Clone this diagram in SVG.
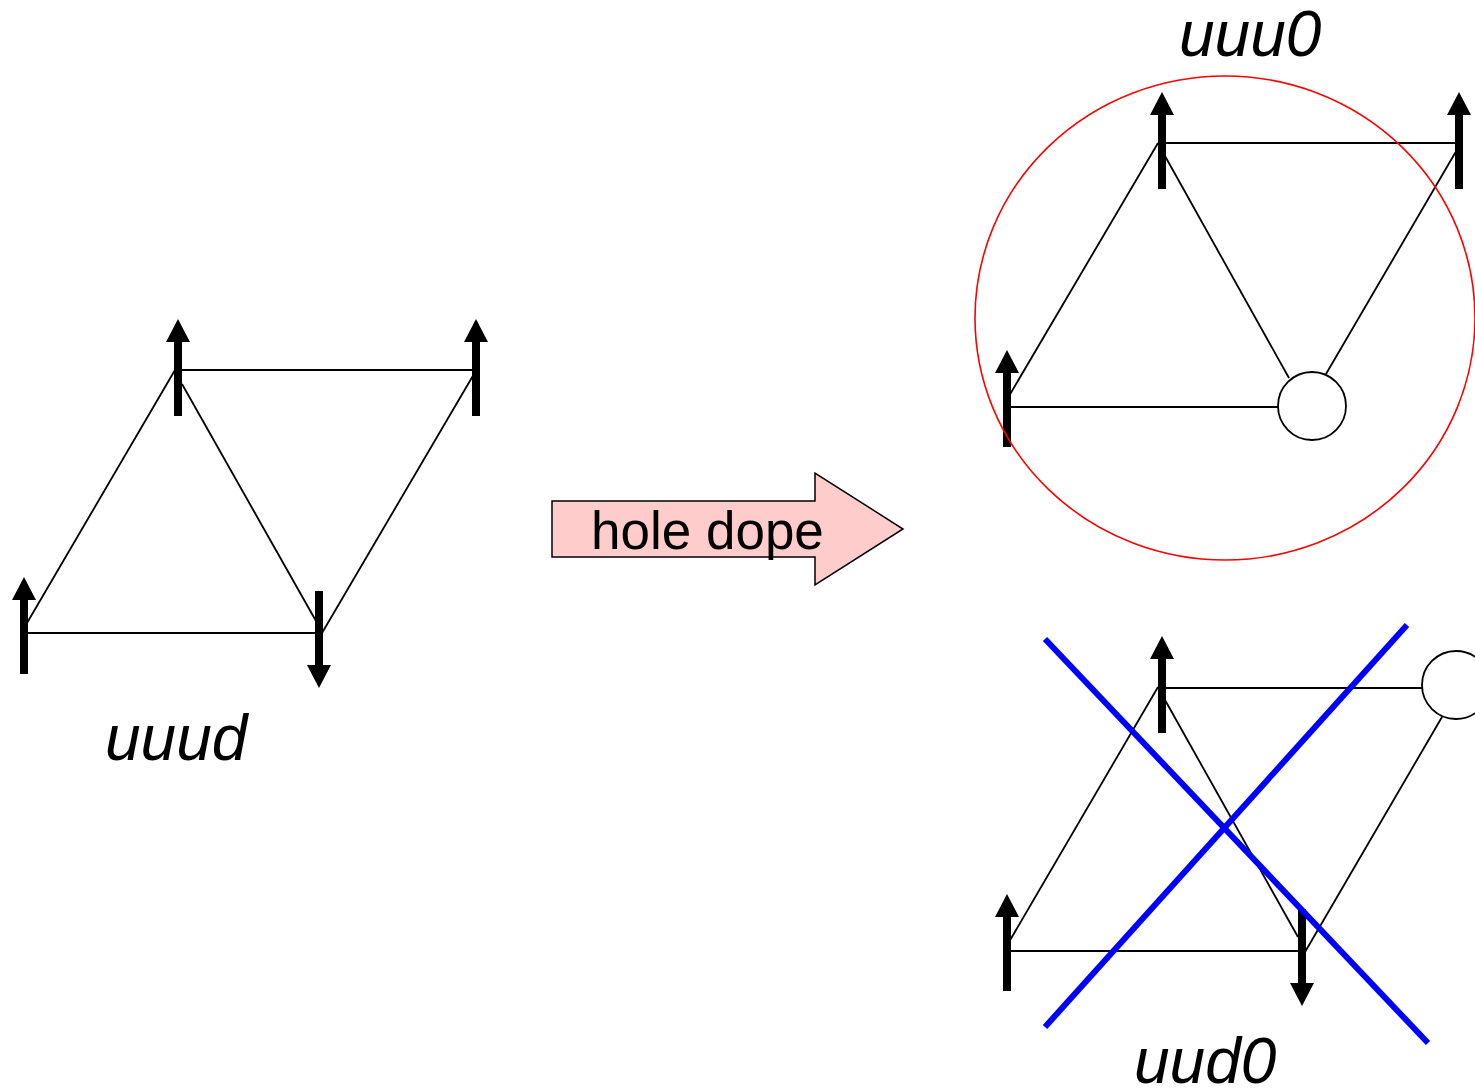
<svg xmlns="http://www.w3.org/2000/svg" xmlns:xlink="http://www.w3.org/1999/xlink" width="1475" height="1091" viewBox="0 0 1475 1091">
<style>
.bond{stroke:#000;stroke-width:1.8;fill:none}
.hole{stroke:#000;stroke-width:1.8;fill:#fff}
.lbl{font-family:"Liberation Sans",Arial,sans-serif;font-style:italic;font-size:64px;fill:#000}
.cross{stroke:#0000FF;stroke-width:6;fill:none}
</style>
<defs>
<path id="up" d="M0,0 L12,23 L4,23 L4,97 L-4,97 L-4,23 L-12,23 Z" fill="#000"/>
<path id="down" d="M0,0 L12,-23 L4,-23 L4,-97 L-4,-97 L-4,-23 L-12,-23 Z" fill="#000"/>
</defs>
<rect width="1475" height="1091" fill="#fff"/>

<g id="connectors">
  <!-- left lattice -->
  <line class="bond" x1="178" y1="370" x2="476" y2="370"/>
  <line class="bond" x1="175" y1="370" x2="27" y2="623"/>
  <line class="bond" x1="182" y1="384" x2="316" y2="621"/>
  <line class="bond" x1="322" y1="633" x2="474" y2="374"/>
  <line class="bond" x1="26" y1="633" x2="319" y2="633"/>
  <!-- top-right lattice -->
  <line class="bond" x1="1160" y1="143" x2="1459" y2="143"/>
  <line class="bond" x1="1158" y1="143" x2="1009" y2="396"/>
  <line class="bond" x1="1165" y1="156" x2="1289" y2="378"/>
  <line class="bond" x1="1326" y1="374" x2="1458" y2="148"/>
  <line class="bond" x1="1007" y1="407" x2="1278" y2="407"/>
  <!-- bottom-right lattice -->
  <line class="bond" x1="1160" y1="688" x2="1422" y2="688"/>
  <line class="bond" x1="1158" y1="687" x2="1009" y2="942"/>
  <line class="bond" x1="1165" y1="700" x2="1298" y2="937"/>
  <line class="bond" x1="1305" y1="952" x2="1442" y2="717"/>
  <line class="bond" x1="1007" y1="951" x2="1303" y2="951"/>
</g>

<g id="left-uuud">
  <use xlink:href="#up" x="178" y="319"/>
  <use xlink:href="#up" x="476" y="319"/>
  <use xlink:href="#up" x="24" y="577"/>
  <use xlink:href="#down" x="319" y="688"/>
  <text class="lbl" x="105" y="760">uuud</text>
</g>

<g id="hole-dope-arrow">
  <path d="M552,501 L815,501 L815,473 L903,529 L815,585 L815,557 L552,557 Z" fill="#FFCCCC" stroke="#000" stroke-width="1.5"/>
  <text x="591" y="549" font-family="'Liberation Sans',Arial,sans-serif" font-size="53" fill="#000">hole dope</text>
</g>

<g id="top-right-uuu0">
  <use xlink:href="#up" x="1162" y="92"/>
  <use xlink:href="#up" x="1459" y="92"/>
  <use xlink:href="#up" x="1007" y="350"/>
  <circle class="hole" cx="1312" cy="406" r="34"/>
  <ellipse cx="1225" cy="318" rx="250" ry="242" fill="none" stroke="#FF0000" stroke-width="1.6"/>
  <text class="lbl" x="1179" y="56">uuu0</text>
</g>

<g id="bottom-right-uud0">
  <use xlink:href="#up" x="1162" y="636"/>
  <use xlink:href="#up" x="1007" y="894"/>
  <use xlink:href="#down" x="1302" y="1006"/>
  <circle class="hole" cx="1456" cy="685" r="34"/>
  <line class="cross" x1="1045" y1="639" x2="1428" y2="1043"/>
  <line class="cross" x1="1407" y1="625" x2="1045" y2="1027"/>
  <text class="lbl" x="1134" y="1083">uud0</text>
</g>
</svg>
